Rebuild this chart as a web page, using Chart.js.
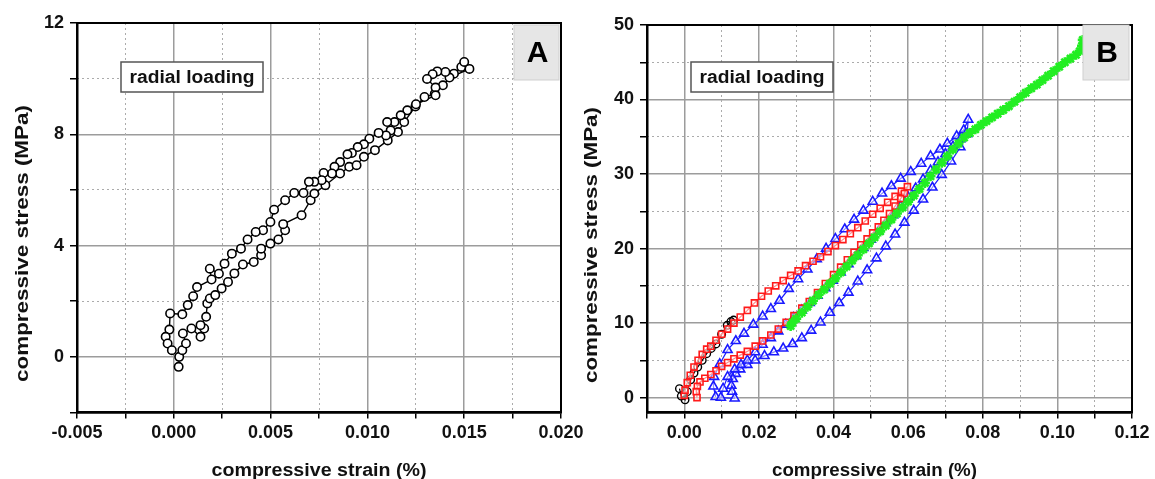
<!DOCTYPE html>
<html>
<head>
<meta charset="utf-8">
<script src="https://cdn.jsdelivr.net/npm/chart.js@4.4.1/dist/chart.umd.min.js"></script>
<style>
    html, body { margin: 0; padding: 0; background: #fff; }
    #wrap { position: relative; width: 1155px; height: 479px; overflow: hidden; }
    #ChartA { position: absolute; left: 0; top: 0; }
    #ChartB { position: absolute; left: 578px; top: 0; }
</style>
</head>
<body>
<div id="wrap">
    <canvas id="ChartA" width="592" height="479"></canvas>
    <canvas id="ChartB" width="577" height="479"></canvas>
</div>
<script>
// ---- data, panel A (one loading / unloading loop) ----
const strainA = [0.00025, 0.00028, 0.00044, 0.00063, 0.00047, 0.00091, 0.00138, 0.00157, 0.00138, 0.00167, 0.00173, 0.00186, 0.00214, 0.00247, 0.0028, 0.00313, 0.00357, 0.00413, 0.00451, 0.00451, 0.00499, 0.0054, 0.00575, 0.00565, 0.0066, 0.00707, 0.00726, 0.00783, 0.00859, 0.00906, 0.00944, 0.00982, 0.01039, 0.01105, 0.01158, 0.0119, 0.01248, 0.01295, 0.01348, 0.0139, 0.01447, 0.01485, 0.0150, 0.01527,
    0.01424, 0.01403, 0.01361, 0.01337, 0.01308, 0.01352, 0.01352, 0.01251, 0.01206, 0.01172, 0.0114, 0.01102, 0.0112, 0.01096, 0.01058, 0.0101, 0.00982, 0.0095, 0.0092, 0.00897, 0.00859, 0.0083, 0.00817, 0.00774, 0.00764, 0.00726, 0.00698, 0.0067, 0.00622, 0.00575, 0.00518, 0.00499, 0.00461, 0.00423, 0.00381, 0.00347, 0.003, 0.00262, 0.00233, 0.00186, 0.00195, 0.0012, 0.001, 0.00072, 0.00044, -0.00019, -0.00023, -0.00042, -0.00032, -0.0001];
const stressA = [-0.36, 0.0, 0.24, 0.48, 0.84, 1.02, 0.72, 1.02, 1.14, 1.44, 1.92, 2.10, 2.22, 2.46, 2.69, 3.0, 3.32, 3.41, 3.65, 3.89, 4.07, 4.22, 4.55, 4.77, 5.09, 5.63, 5.87, 6.17, 6.59, 6.83, 6.89, 7.19, 7.43, 7.78, 8.08, 8.44, 9.0, 9.34, 9.46, 9.76, 10.18, 10.42, 10.6, 10.35,
    10.04, 10.24, 10.26, 10.16, 9.99, 9.68, 9.40, 9.08, 8.86, 8.68, 8.44, 8.44, 8.14, 7.96, 8.05, 7.84, 7.64, 7.54, 7.33, 7.28, 7.0, 6.83, 6.59, 6.61, 6.35, 6.29, 6.29, 5.89, 5.89, 5.63, 5.29, 4.85, 4.55, 4.49, 4.22, 3.89, 3.71, 3.35, 2.99, 3.17, 2.78, 2.51, 2.18, 1.86, 1.53, 1.56, 0.98, 0.72, 0.48, 0.24];

// ---- data, panel B (four cycles) ----
const strainBlack = [-0.0013, -0.0008, 0.0002, 0.0008, 0.0017, 0.0026, 0.0036, 0.0048, 0.006, 0.0072, 0.0085, 0.01, 0.0115, 0.0125, 0.0132];
const stressBlack = [1.2, 0.2, -0.3, 0.8, 2.4, 3.3, 4.1, 5.0, 5.9, 6.6, 7.2, 8.5, 9.7, 10.2, 10.4];

const strainRed = [0.0000, 0.0002, 0.0008, 0.0016, 0.0026, 0.0037, 0.0048, 0.006, 0.0071, 0.0085, 0.01, 0.0116, 0.0133, 0.015, 0.0169, 0.0188, 0.0207, 0.0225, 0.0245, 0.0265, 0.0285, 0.0305, 0.0325, 0.0345, 0.0365, 0.0385, 0.0405, 0.0425, 0.0445, 0.0465, 0.0485, 0.0505, 0.0525, 0.0545, 0.0565, 0.0582, 0.0598,
    0.059, 0.058, 0.0565, 0.055, 0.0535, 0.052, 0.0505, 0.049, 0.0473, 0.0455, 0.0437, 0.0419, 0.04, 0.0378, 0.0357, 0.0335, 0.0315, 0.0294, 0.0273, 0.0252, 0.0232, 0.021, 0.019, 0.0169, 0.015, 0.0133, 0.0116, 0.01, 0.0085, 0.0071, 0.0055, 0.0042, 0.0035, 0.0032, 0.0034];
const stressRed = [0.3, 1.0, 2.0, 3.0, 4.1, 5.0, 5.8, 6.5, 6.9, 7.7, 8.5, 9.2, 10.0, 10.8, 11.7, 12.7, 13.6, 14.3, 15.0, 15.7, 16.4, 17.0, 17.7, 18.3, 18.9, 19.6, 20.4, 21.2, 22.0, 22.8, 23.7, 24.6, 25.4, 26.2, 27.0, 27.7, 28.3,
    27.4, 26.7, 25.7, 24.7, 23.8, 22.9, 22.1, 21.3, 20.5, 19.5, 18.5, 17.5, 16.5, 15.3, 14.1, 12.9, 12.0, 11.0, 10.1, 9.2, 8.4, 7.6, 6.9, 6.2, 5.7, 5.2, 4.7, 4.2, 3.6, 3.1, 2.6, 2.1, 1.5, 0.8, 0.0];

const strainBlue = [0.0084, 0.0078, 0.008, 0.0095, 0.0116, 0.0138, 0.016, 0.0185, 0.021, 0.0232, 0.0255, 0.028, 0.0305, 0.033, 0.0355, 0.038, 0.0405, 0.043, 0.0455, 0.048, 0.0505, 0.053, 0.0555, 0.058, 0.0607, 0.0635, 0.066, 0.0685, 0.0705, 0.073, 0.0749, 0.0761,
    0.0758, 0.074, 0.0715, 0.069, 0.0665, 0.064, 0.0615, 0.059, 0.0565, 0.054, 0.0515, 0.049, 0.0465, 0.044, 0.0415, 0.039, 0.0365, 0.034, 0.0315, 0.029, 0.0265, 0.024, 0.0215, 0.019, 0.0169, 0.015, 0.0138, 0.013, 0.0126, 0.0128, 0.0135,
    0.0098, 0.0104, 0.0116, 0.0135, 0.0152, 0.0169, 0.019, 0.021, 0.0232, 0.0252, 0.0272, 0.0293, 0.0315, 0.0336, 0.0357, 0.0378, 0.0398, 0.0419, 0.044, 0.046, 0.048, 0.050, 0.052, 0.054, 0.056, 0.058, 0.060, 0.062, 0.064, 0.066, 0.068, 0.070, 0.072, 0.074, 0.0755];
const stressBlue = [0.1, 1.5, 2.8, 4.5, 6.4, 7.6, 8.6, 9.8, 10.9, 11.9, 13.0, 14.6, 15.9, 17.2, 18.6, 20.0, 21.3, 22.6, 23.9, 25.1, 26.3, 27.4, 28.4, 29.4, 30.3, 31.4, 32.4, 33.3, 34.1, 35.1, 35.9, 37.3,
    35.4, 33.6, 31.7, 29.9, 28.2, 26.6, 25.1, 23.5, 21.9, 20.3, 18.7, 17.1, 15.6, 14.1, 12.7, 11.4, 10.1, 9.0, 8.0, 7.2, 6.6, 6.1, 5.6, 5.0, 4.4, 3.8, 3.2, 2.5, 1.6, 0.8, -0.1,
    0.0, 1.2, 2.8, 3.8, 4.4, 5.0, 6.1, 7.1, 8.0, 8.9, 9.8, 10.7, 11.7, 12.7, 13.7, 14.7, 15.7, 16.8, 17.9, 19.0, 20.1, 21.2, 22.3, 23.4, 24.5, 25.7, 26.9, 28.1, 29.3, 30.5, 31.6, 32.7, 33.7, 34.7, 35.4];

const strainGreen = [0.0285, 0.029, 0.030, 0.0315, 0.033, 0.0345, 0.036, 0.0375, 0.039, 0.0405, 0.042, 0.0435, 0.045, 0.0465, 0.048, 0.0495, 0.051, 0.0525, 0.054, 0.0555, 0.057, 0.0585, 0.060, 0.0615, 0.063, 0.0645, 0.066, 0.0675, 0.069, 0.0705, 0.072, 0.0735, 0.075, 0.0765, 0.078, 0.0795, 0.081, 0.0825, 0.084, 0.0855, 0.087, 0.0885, 0.090, 0.0915, 0.093, 0.0945, 0.096, 0.0975, 0.099, 0.1005, 0.102, 0.1035, 0.105, 0.106, 0.1066, 0.1068];
const stressGreen = [9.6, 10.1, 10.6, 11.4, 12.2, 13.0, 13.8, 14.5, 15.3, 16.0, 16.8, 17.6, 18.4, 19.1, 19.9, 20.7, 21.5, 22.3, 23.1, 23.9, 24.7, 25.5, 26.3, 27.1, 28.0, 28.8, 29.7, 30.6, 31.5, 32.4, 33.3, 34.1, 34.9, 35.5, 36.0, 36.6, 37.1, 37.6, 38.1, 38.6, 39.1, 39.7, 40.3, 40.9, 41.5, 42.0, 42.6, 43.2, 43.8, 44.4, 45.0, 45.5, 46.0, 46.5, 47.2, 48.0];

// ---- tick labels (major ticks), minor ticks sit halfway ----
const xMajorA = [-0.005, 0.000, 0.005, 0.010, 0.015, 0.020];
const yMajorA = [0, 4, 8, 12];
const xMajorB = [0.00, 0.02, 0.04, 0.06, 0.08, 0.10, 0.12];
const yMajorB = [0, 10, 20, 30, 40, 50];

const AxisTitleX = 'compressive strain (%)';
const AxisTitleY = 'compressive stress (MPa)';
const NoteText = 'radial loading';

const FontFamily = 'Arial, "Liberation Sans", sans-serif';
const MajorGrid = '#9c9c9c';
const MinorGrid = '#ababab';
const Clear = 'rgba(0,0,0,0)';

function ToPoints(xs, ys)
{
    return xs.map((x, i) => ({ x: x, y: ys[i] }));
}

function IsMajor(value, majors)
{
    return majors.some(v => Math.abs(v - value) < 1e-9);
}

function MainAxis(min, max, step, majors, digits, fitSize, horizontal)
{
    return {
        type: 'linear',
        position: horizontal ? 'bottom' : 'left',
        min: min,
        max: max,
        afterFit: function (scale)
        {
            if (horizontal) scale.height = fitSize; else scale.width = fitSize;
            scale.paddingLeft = 0; scale.paddingRight = 0;
            scale.paddingTop = 0; scale.paddingBottom = 0;
        },
        ticks: {
            stepSize: step,
            includeBounds: false,
            autoSkip: false,
            maxRotation: 0,
            padding: horizontal ? 4 : 6,
            color: '#111',
            font: { family: FontFamily, size: 18, weight: 'bold' },
            callback: function (value)
            {
                return IsMajor(value, majors) ? Number(value).toFixed(digits) : '';
            }
        },
        grid: {
            color: ctx => (ctx.tick && IsMajor(ctx.tick.value, majors)) ? MajorGrid : Clear,
            lineWidth: 1.5,
            tickColor: '#000',
            tickLength: horizontal ? 6 : 7,
            tickWidth: 1.5
        },
        border: { display: true, color: '#000', width: 2.5 }
    };
}

function MinorAxis(min, max, step, majors, horizontal)
{
    return {
        type: 'linear',
        position: horizontal ? 'bottom' : 'left',
        min: min,
        max: max,
        afterFit: function (scale)
        {
            if (horizontal) scale.height = 0; else scale.width = 0;
            scale.paddingLeft = 0; scale.paddingRight = 0;
            scale.paddingTop = 0; scale.paddingBottom = 0;
        },
        ticks: { display: false, stepSize: step, includeBounds: false, autoSkip: false },
        grid: {
            color: ctx => (ctx.tick && !IsMajor(ctx.tick.value, majors)) ? MinorGrid : Clear,
            lineWidth: 1,
            drawTicks: false
        },
        border: { display: false, dash: [2, 3] }
    };
}

function DrawStretched(ctx, text, cx, cy, length, size, rotate)
{
    ctx.save();
    ctx.font = 'bold ' + size + 'px ' + FontFamily;
    ctx.textAlign = 'center';
    ctx.textBaseline = 'middle';
    ctx.fillStyle = '#111';
    ctx.translate(cx, cy);
    if (rotate) ctx.rotate(-Math.PI / 2);
    ctx.scale(length / ctx.measureText(text).width, 1);
    ctx.fillText(text, 0, 0);
    ctx.restore();
}

// frame, note box, panel letter and axis titles
const panelDecor = {
    id: 'panelDecor',
    afterDraw(chart, args, opts)
    {
        const { ctx, chartArea: { left, top, right, bottom } } = chart;
        ctx.save();
        ctx.strokeStyle = '#000';
        ctx.lineWidth = 2;
        ctx.strokeRect(left, top, right - left, bottom - top);

        const [bx, by, bw, bh] = opts.noteBox;
        ctx.fillStyle = '#fff';
        ctx.fillRect(bx, by, bw, bh);
        ctx.strokeStyle = '#555';
        ctx.lineWidth = 1.5;
        ctx.strokeRect(bx, by, bw, bh);
        DrawStretched(ctx, NoteText, bx + bw / 2, by + bh / 2 + 1, 125, 18, false);

        const [lx, ly, lw, lh] = opts.letterBox;
        ctx.fillStyle = '#e6e6e6';
        ctx.fillRect(lx, ly, lw, lh);
        ctx.strokeStyle = '#cfcfcf';
        ctx.lineWidth = 1;
        ctx.strokeRect(lx, ly, lw, lh);
        ctx.fillStyle = '#000';
        ctx.font = 'bold 30px ' + FontFamily;
        ctx.textAlign = 'center';
        ctx.textBaseline = 'middle';
        ctx.fillText(opts.letter, lx + lw / 2 + 1, ly + lh / 2 + 1);

        DrawStretched(ctx, AxisTitleX, opts.xTitle[0], opts.xTitle[1], opts.xTitle[2], 18, false);
        DrawStretched(ctx, AxisTitleY, opts.yTitle[0], opts.yTitle[1], opts.yTitle[2], 18, true);
        ctx.restore();
    }
};

function Series(label, xs, ys, color, style, radius, width, fill, markerWidth)
{
    return {
        label: label,
        data: ToPoints(xs, ys),
        showLine: true,
        borderColor: color,
        borderWidth: width,
        pointStyle: style,
        pointRadius: radius,
        pointBorderColor: color,
        pointBackgroundColor: fill,
        pointBorderWidth: markerWidth
    };
}

function BaseOptions(scales, decor, padRight, padTop)
{
    return {
        responsive: false,
        animation: false,
        layout: { padding: { left: 0, right: padRight, top: padTop, bottom: 0 } },
        plugins: {
            legend: { display: false },
            tooltip: { enabled: false },
            panelDecor: decor
        },
        scales: scales
    };
}

new Chart(document.getElementById('ChartA'),
{
    type: 'scatter',
    data: {
        datasets: [Series('A', strainA, stressA, '#000', 'circle', 4.2, 1.4, '#fff', 1.6)]
    },
    options: BaseOptions(
        {
            x: MainAxis(-0.005, 0.020, 0.0025, xMajorA, 3, 66.5, true),
            y: MainAxis(-2, 12, 2, yMajorA, 0, 77, false),
            xm: MinorAxis(-0.005, 0.020, 0.0025, xMajorA, true),
            ym: MinorAxis(-2, 12, 2, yMajorA, false)
        },
        {
            noteBox: [121, 62, 142, 30],
            letter: 'A',
            letterBox: [514, 25, 45, 55],
            xTitle: [319, 471, 215],
            yTitle: [23.5, 243.5, 277]
        }, 31, 23),
    plugins: [panelDecor]
});

new Chart(document.getElementById('ChartB'),
{
    type: 'scatter',
    data: {
        datasets: [
            Series('green', strainGreen, stressGreen, '#22ee22', 'star', 5, 2, '#22ee22', 2.6),
            Series('red', strainRed, stressRed, '#ff1a1a', 'rect', 4.3, 1.2, 'rgba(255,255,255,0.5)', 1.6),
            Series('blue', strainBlue, stressBlue, '#1a1aff', 'triangle', 5.2, 1.2, 'rgba(255,255,255,0.5)', 1.6),
            Series('black', strainBlack, stressBlack, '#000', 'circle', 3.8, 1.2, 'rgba(255,255,255,0)', 1.4)
        ]
    },
    options: BaseOptions(
        {
            x: MainAxis(-0.01, 0.12, 0.01, xMajorB, 2, 66.5, true),
            y: MainAxis(-2, 50, 5, yMajorB, 0, 69, false),
            xm: MinorAxis(-0.01, 0.12, 0.01, xMajorB, true),
            ym: MinorAxis(-2, 50, 5, yMajorB, false)
        },
        {
            noteBox: [113, 62, 142, 30],
            letter: 'B',
            letterBox: [505, 25, 46, 55],
            xTitle: [296.5, 471, 205],
            yTitle: [14, 245, 276]
        }, 23, 25),
    plugins: [panelDecor]
});
</script>
</body>
</html>
